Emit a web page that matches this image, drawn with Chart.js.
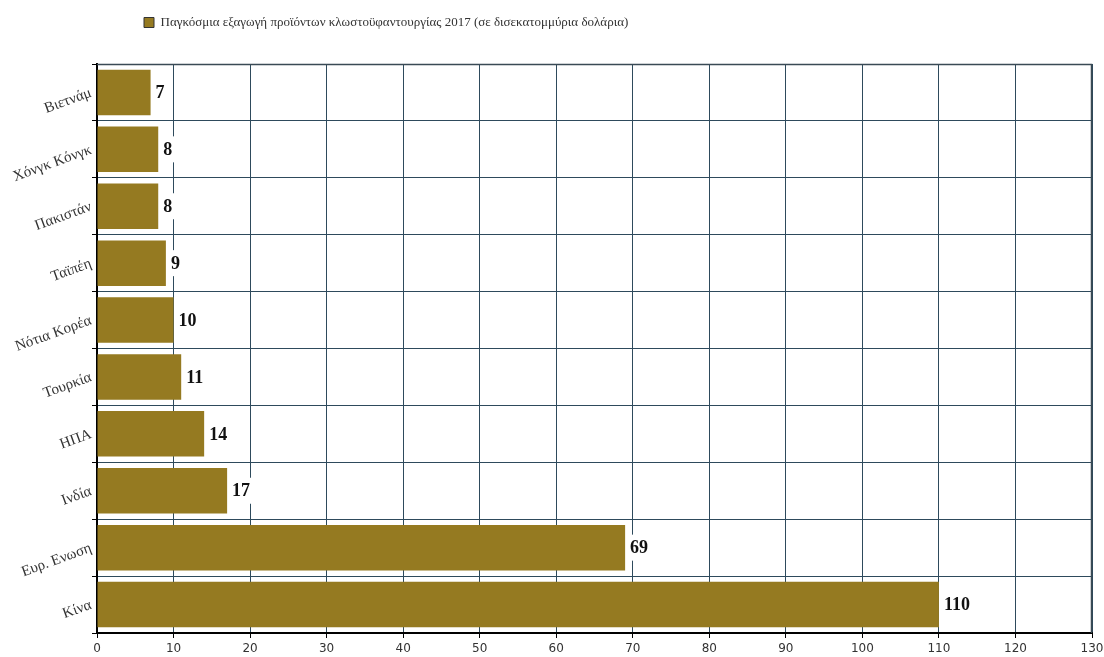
<!DOCTYPE html>
<html>
<head>
<meta charset="utf-8">
<script src="https://cdn.jsdelivr.net/npm/chart.js@4.4.1/dist/chart.umd.min.js"></script>
<style>
html,body{margin:0;padding:0;background:#fff;}
#wrap{width:1104px;height:657px;position:relative;}
</style>
</head>
<body>
<div id="wrap"><canvas id="c" width="1104" height="657"></canvas></div>
<script>
const categories = ["Βιετνάμ","Χόνγκ Κόνγκ","Πακιστάν","Ταϊπέη","Νότια Κορέα","Τουρκία","ΗΠΑ","Ινδία","Ευρ. Ενωση","Κίνα"];
const values = [7, 8, 8, 9, 10, 11, 14, 17, 69, 110];
const seriesLabel = "Παγκόσμια εξαγωγή προϊόντων κλωστοϋφαντουργίας 2017 (σε δισεκατομμύρια δολάρια)";
const xMin = 0, xMax = 130, xStep = 10;

const barColor = "#957a21";
const gridColor = "#2e4a5c";

const legendShift = {
  id: 'legendShift',
  afterInit(chart) {
    const lg = chart.legend;
    if (lg) {
      const origFit = lg.fit.bind(lg);
      lg.fit = function () { origFit(); this.height += 25; };
    }
  },
  afterLayout(chart) {
    if (chart.legend) { chart.legend.left += 134; chart.legend.right += 134; }
  }
};

const valueLabels = {
  id: 'valueLabels',
  afterDatasetsDraw(chart) {
    const ctx = chart.ctx;
    const meta = chart.getDatasetMeta(0);
    ctx.save();
    ctx.font = "bold 18px 'Liberation Serif', 'DejaVu Serif', serif";
    ctx.textBaseline = 'middle';
    meta.data.forEach((bar, i) => {
      const txt = String(values[i]);
      const w = ctx.measureText(txt).width;
      const x = bar.x, y = bar.y;
      ctx.fillStyle = '#ffffff';
      ctx.fillRect(x + 1, y - 13, w + 9, 26);
      ctx.fillStyle = '#111111';
      ctx.textAlign = 'left';
      ctx.fillText(txt, x + 5, y + 1);
    });
    ctx.restore();
  }
};

new Chart(document.getElementById('c'), {
  type: 'bar',
  data: {
    labels: categories,
    datasets: [{
      label: seriesLabel,
      data: values,
      backgroundColor: barColor,
      borderWidth: 0,
      categoryPercentage: 0.8,
      barPercentage: 1.0
    }]
  },
  options: {
    indexAxis: 'y',
    responsive: false,
    animation: false,
    devicePixelRatio: 1,
    layout: { padding: { left: 0, right: 0, top: 6, bottom: 0 } },
    plugins: {
      legend: {
        display: true,
        position: 'top',
        align: 'start',
        labels: {
          boxWidth: 10,
          boxHeight: 10,
          color: '#333',
          font: { family: "'Liberation Serif', 'DejaVu Serif', serif", size: 13 },
          padding: 10,
          generateLabels(chart) {
            return [{
              text: seriesLabel,
              fillStyle: barColor,
              strokeStyle: '#333',
              lineWidth: 1,
              datasetIndex: 0,
              hidden: false,
              fontColor: '#333'
            }];
          }
        }
      },
      tooltip: { enabled: false }
    },
    scales: {
      x: {
        type: 'linear',
        min: xMin,
        max: xMax,
        ticks: {
          stepSize: xStep,
          color: '#333',
          font: { family: "'DejaVu Sans', Verdana, sans-serif", size: 12 },
          padding: 4
        },
        grid: {
          color: gridColor,
          lineWidth: 1,
          drawTicks: true,
          tickLength: 5,
          tickColor: '#000'
        },
        border: { display: true, color: '#000', width: 2 },
        afterFit(scale) { scale.height = 24; scale.paddingRight = 12; }
      },
      y: {
        type: 'category',
        ticks: {
          color: '#333',
          font: { family: "'Liberation Serif', 'DejaVu Serif', serif", size: 15 },
          minRotation: 20,
          maxRotation: 20,
          padding: 1
        },
        grid: {
          color: gridColor,
          lineWidth: 1,
          offset: true,
          drawTicks: true,
          tickLength: 5,
          tickColor: '#000'
        },
        border: { display: true, color: '#000', width: 2 },
        afterFit(scale) { scale.width = 97; }
      }
    }
  },
  plugins: [legendShift, valueLabels, {
    id: 'frame',
    beforeDatasetsDraw(chart) {
      const a = chart.chartArea, ctx = chart.ctx;
      ctx.save();
      ctx.strokeStyle = '#3a4a55';
      ctx.lineWidth = 1.5;
      ctx.beginPath();
      ctx.moveTo(a.left, a.top + 0.5);
      ctx.lineTo(a.right - 0.5, a.top + 0.5);
      ctx.lineTo(a.right - 0.5, a.bottom);
      ctx.stroke();
      ctx.restore();
    }
  }]
});
</script>
</body>
</html>
